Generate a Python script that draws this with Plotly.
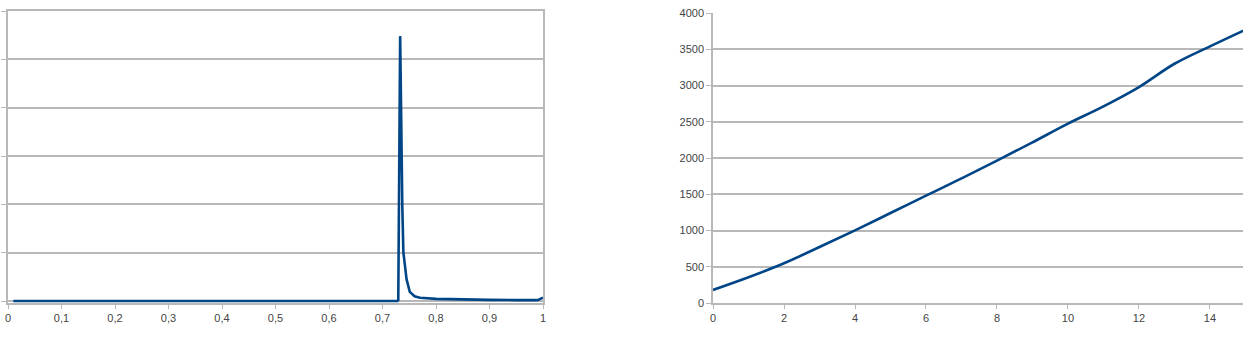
import plotly.graph_objects as go

# ---- Left chart data ----
left_x = [0.01, 0.1, 0.2, 0.3, 0.4, 0.5, 0.6, 0.7, 0.728, 0.7295, 0.733, 0.737, 0.739,
          0.745, 0.751, 0.76, 0.77, 0.8, 0.85, 0.9, 0.95, 0.98, 0.99, 1.0]
left_y = [0.0, 0.0, 0.0, 0.0, 0.0, 0.0, 0.0, 0.0, 0.0, 0.02, 5.48, 1.97, 1.01,
          0.45, 0.19, 0.1, 0.07, 0.045, 0.03, 0.025, 0.02, 0.01, 0.02, 0.07]
left_tickvals = [0, 0.1, 0.2, 0.3, 0.4, 0.5, 0.6, 0.7, 0.8, 0.9, 1]
left_ticktext = ["0", "0,1", "0,2", "0,3", "0,4", "0,5", "0,6", "0,7", "0,8", "0,9", "1"]

# ---- Right chart data ----
right_x = [0, 1, 2, 3, 4, 5, 6, 7, 8, 9, 10, 11, 12, 13, 14, 15]
right_y = [180, 355, 548, 772, 1002, 1241, 1480, 1719, 1963, 2216, 2474, 2713, 2979, 3300, 3540, 3770]
right_xticks = [0, 2, 4, 6, 8, 10, 12, 14]
right_yticks = [0, 500, 1000, 1500, 2000, 2500, 3000, 3500, 4000]

LINE = "#004586"
GRID = "#b8b8b8"
FONT = dict(family="Liberation Sans, Arial, sans-serif", size=11, color="#444444")
W, H = 1243, 338

fig = go.Figure()
fig.add_trace(go.Scatter(x=left_x, y=left_y, mode="lines",
                         line=dict(color=LINE, width=2.6),
                         xaxis="x", yaxis="y", showlegend=False))
fig.add_trace(go.Scatter(x=right_x, y=right_y, mode="lines",
                         line=dict(color=LINE, width=2.6, shape="spline", smoothing=1.0),
                         xaxis="x2", yaxis="y2", showlegend=False))

fig.update_layout(
    width=W, height=H,
    margin=dict(l=0, r=0, t=0, b=0, pad=0, autoexpand=False),
    paper_bgcolor="white", plot_bgcolor="white",
    font=FONT,
    xaxis=dict(domain=[8 / W, 543 / W], range=[0, 1],
               tickvals=left_tickvals, ticktext=left_ticktext,
               showgrid=False, zeroline=False,
               showline=True, linecolor=GRID, linewidth=1.5, mirror=True,
               ticks="outside", ticklen=4, tickcolor=GRID, tickfont=FONT,
               anchor="y"),
    yaxis=dict(domain=[(H - 303) / H, (H - 11) / H], range=[-0.04, 6],
               tickvals=[0, 1, 2, 3, 4, 5, 6], showticklabels=False,
               showgrid=True, gridcolor=GRID, gridwidth=1.5, zeroline=False,
               showline=True, linecolor=GRID, linewidth=1.5, mirror=True,
               ticks="outside", ticklen=5, tickcolor=GRID,
               anchor="x"),
    xaxis2=dict(domain=[713 / W, 1.0], range=[0, 14.93],
                tickvals=right_xticks,
                showgrid=False, zeroline=False,
                showline=True, linecolor=GRID, linewidth=1.5,
                ticks="outside", ticklen=4, tickcolor=GRID, tickfont=FONT,
                anchor="y2"),
    yaxis2=dict(domain=[(H - 303) / H, (H - 13) / H], range=[0, 4000],
                tickvals=right_yticks,
                showgrid=True, gridcolor=GRID, gridwidth=1.5, zeroline=False,
                showline=True, linecolor=GRID, linewidth=1.5,
                ticks="outside", ticklen=5, tickcolor=GRID, tickfont=FONT,
                anchor="x2"),
)

fig.write_html("out.html")
